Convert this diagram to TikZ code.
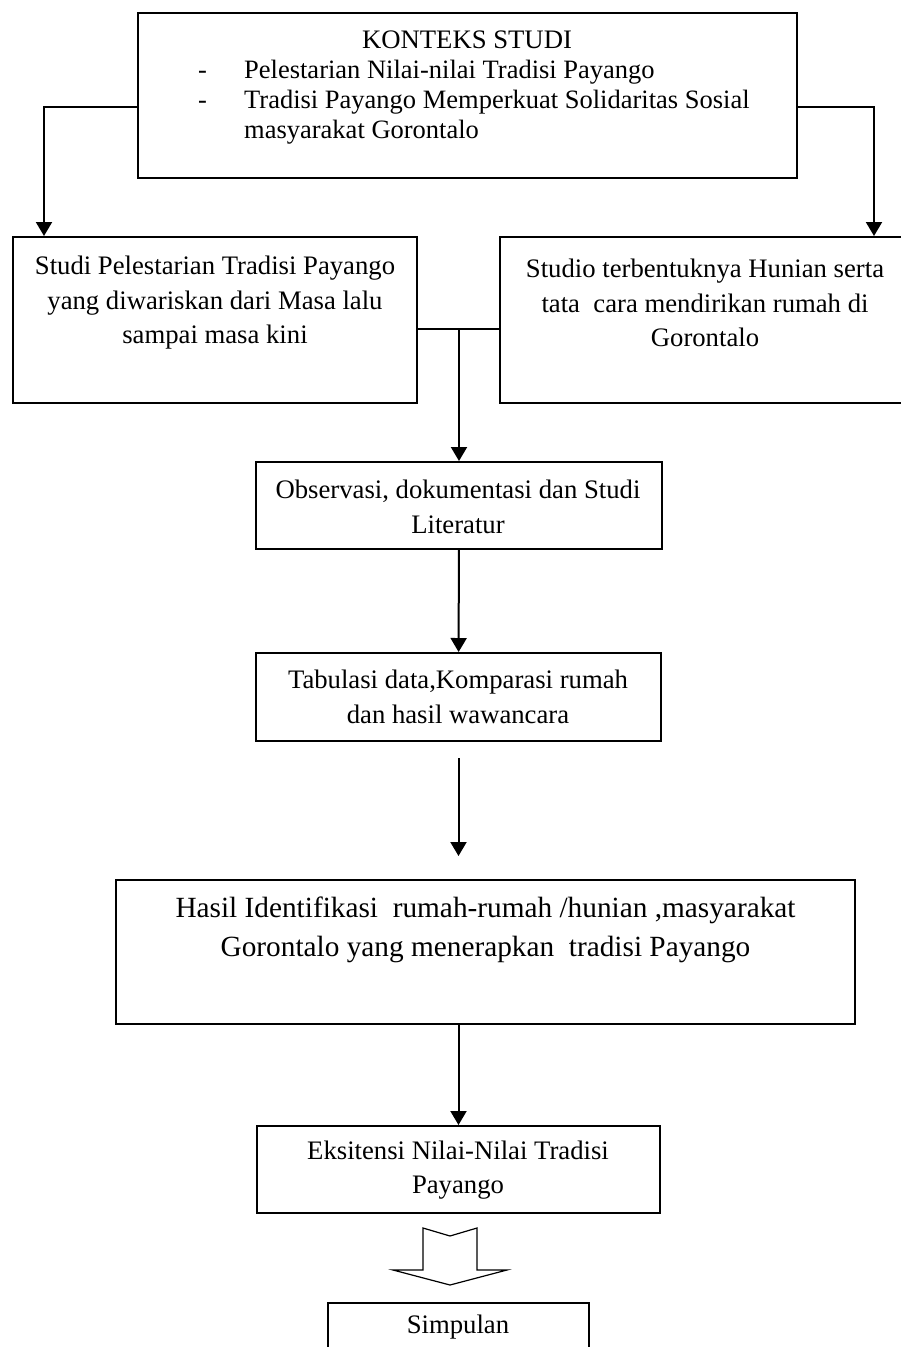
\documentclass[tikz,border=0pt]{standalone}
\usepackage{fontspec}
\setmainfont{Liberation Serif}
\usetikzlibrary{positioning,calc,arrows.meta}

\tikzset{
  kotak/.style={draw, line width=2pt, inner sep=0pt},
  teks/.style={inner sep=0pt, align=center, font=\fontsize{26.7}{34.5}\selectfont},
  panah/.style={line width=2pt, -{Triangle[length=14pt,width=16pt]}},
}

\begin{document}
\begin{tikzpicture}[x=1pt,y=-1pt]
  \clip (0,0) rectangle (901,1347);
  % kotak-kotak
  \node[kotak, minimum width=659pt, minimum height=165pt] (konteks) at (467.5,95.5) {};
  \node[kotak, minimum width=404pt, minimum height=166pt] (studi) at (215,320) {};
  \node[kotak, minimum width=410pt, minimum height=166pt] (studio) at (705,320) {};
  \node[kotak, minimum width=406pt, minimum height=87pt] (obs) at (459,505.5) {};
  \node[kotak, minimum width=405pt, minimum height=88pt] (tab) at (458.5,697) {};
  \node[kotak, minimum width=739pt, minimum height=144pt] (hasil) at (485.5,952) {};
  \node[kotak, minimum width=403pt, minimum height=87pt] (eks) at (458.5,1169.5) {};
  \node[kotak, minimum width=261pt, minimum height=80pt] (simpulan) at (458.5,1343) {};

  % teks
  \node[teks] (tkonteks) at (467,40) {KONTEKS STUDI};
  \node[teks, anchor=west, align=left, font=\fontsize{26.5}{30}\selectfont] (daftar) at (198,102.5)
    {\makebox[46pt][l]{-}Pelestarian Nilai-nilai Tradisi Payango\\
     \makebox[46pt][l]{-}Tradisi Payango Memperkuat Solidaritas Sosial\\
     \hspace*{46pt}masyarakat Gorontalo};
  \node[teks] (tstudi) at (215,303) {Studi Pelestarian Tradisi Payango\\yang diwariskan dari Masa lalu\\sampai masa kini};
  \node[teks] (tstudio) at (705,303) {Studio terbentuknya Hunian serta\\tata\ \ cara mendirikan rumah di\\Gorontalo};
  \node[teks] (tobs) at (458,507) {Observasi, dokumentasi dan Studi\\Literatur};
  \node[teks] (ttab) at (458,697) {Tabulasi data,Komparasi rumah\\dan hasil wawancara};
  \node[teks, font=\fontsize{29.3}{39}\selectfont] (thasil) at (485.5,930) {Hasil Identifikasi\ \ rumah-rumah /hunian ,masyarakat\\Gorontalo yang menerapkan\ \ tradisi Payango};
  \node[teks] (teks) at (458,1170) {Eksitensi Nilai-Nilai Tradisi\\Payango};
  \node[teks] (tsimpulan) at (458,1327) {Simpulan};

  % panah
  \draw[panah] ([yshift=-11.5pt]konteks.west) -| ([xshift=32pt]studi.north west);
  \draw[panah] ([yshift=-11.5pt]konteks.east) -| ([xshift=-37pt]studio.north east);
  \draw[line width=2pt] ([yshift=-9pt]studi.east) coordinate (ka) -- (ka -| studio.west);
  \draw[panah] (ka -| obs.north) -- (obs.north);
  \draw[panah] (obs) -- (tab);
  \draw[panah] ($(tab.south)+(0,-16pt)$) -- ($(tab.south |- hasil.north)+(0,23pt)$);
  \draw[panah] (eks.north |- hasil.south) -- (eks.north);
  % panah kosong
  \draw[line width=1.2pt, line join=miter] (423,1228) -- (450,1236) -- (477,1228) -- (477,1270) -- (507,1270)
    -- (450,1285) -- (393,1270) -- (423,1270) -- cycle;
\end{tikzpicture}
\end{document}
